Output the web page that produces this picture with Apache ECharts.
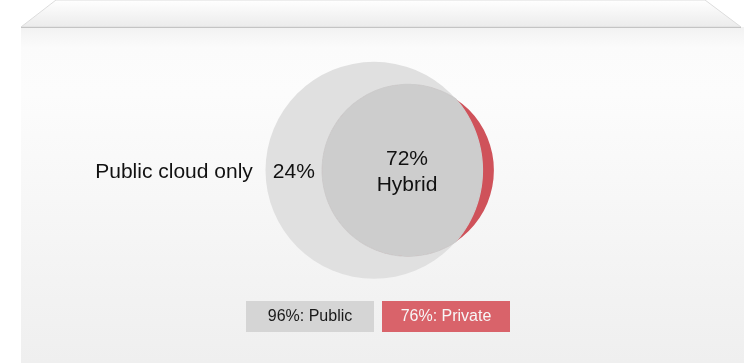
<!DOCTYPE html>
<html>
<head>
<meta charset="utf-8">
<script src="https://cdn.jsdelivr.net/npm/echarts@6/dist/echarts.min.js"></script>
<style>
  html, body { margin: 0; padding: 0; background: #ffffff; }
  #chart { width: 744px; height: 363px; }
</style>
</head>
<body>
<div id="chart"></div>
<script>
// ---- data ----
const setNames = ['Public', 'Private'];
const setValues = [96, 76];
const overlapName = 'Hybrid';
const overlapValue = 72;
const onlyName = 'Public cloud only';
const onlyValue = 24;

// ---- styles ----
const FONT = '"Liberation Sans", Arial, sans-serif';
const circleColors = ['#e0e0e0', '#cf525a'];
const overlapColor = '#cdcdcd';
const legendBg = ['#d5d5d5', '#d9636a'];
const legendText = ['#1a1a1a', '#f7f7f7'];

// ---- Venn layout: radius = value (axis units); distance solved from overlap ----
function lensArea(R1, R2, d) {
  if (d >= R1 + R2) return 0;
  if (d <= Math.abs(R1 - R2)) return Math.PI * Math.min(R1, R2) ** 2;
  const a1 = Math.acos((d * d + R1 * R1 - R2 * R2) / (2 * d * R1));
  const a2 = Math.acos((d * d + R2 * R2 - R1 * R1) / (2 * d * R2));
  return R1 * R1 * (a1 - Math.sin(2 * a1) / 2) + R2 * R2 * (a2 - Math.sin(2 * a2) / 2);
}
const R1u = setValues[0], R2u = setValues[1];
const target = (overlapValue / setValues[1]) * Math.PI * R2u * R2u;
let lo = Math.abs(R1u - R2u), hi = R1u + R2u;
for (let i = 0; i < 80; i++) {
  const mid = (lo + hi) / 2;
  if (lensArea(R1u, R2u, mid) > target) lo = mid; else hi = mid;
}
const dist = (lo + hi) / 2;

const chart = echarts.init(document.getElementById('chart'), null, { renderer: 'canvas' });

function circleItem(color) {
  return function (params, api) {
    const c = api.coord([api.value(0), api.value(1)]);
    const r = api.size([api.value(2), 0])[0];
    return { type: 'circle', shape: { cx: c[0], cy: c[1], r: r }, style: { fill: color } };
  };
}

function lensItem(params, api) {
  const c1 = api.coord([api.value(0), 0]);
  const c2 = api.coord([api.value(1), 0]);
  const R1 = api.size([api.value(2), 0])[0];
  const R2 = api.size([api.value(3), 0])[0];
  const cy = c1[1];
  const d = c2[0] - c1[0];
  const a = (d * d + R1 * R1 - R2 * R2) / (2 * d);
  const h = Math.sqrt(Math.max(R1 * R1 - a * a, 0));
  const x0 = c1[0] + a;
  const angBig = Math.atan2(h, a);
  const angSmall = Math.atan2(h, x0 - c2[0]);
  const pts = [];
  const N = 160;
  for (let i = 0; i <= N; i++) {
    const t = -angSmall - i * (2 * Math.PI - 2 * angSmall) / N;
    pts.push([c2[0] + R2 * Math.cos(t), cy + R2 * Math.sin(t)]);
  }
  for (let i = 1; i < N; i++) {
    const t = angBig - i * (2 * angBig) / N;
    pts.push([c1[0] + R1 * Math.cos(t), cy + R1 * Math.sin(t)]);
  }
  const leftBig = c1[0] - R1;
  const leftSmall = c2[0] - R2;
  const onlyX = (leftBig + leftSmall) / 2;
  return {
    type: 'group',
    children: [
      { type: 'polygon', shape: { points: pts }, style: { fill: overlapColor, stroke: overlapColor, lineWidth: 1.2 } },
      { type: 'text', style: { x: c2[0] - 1, y: cy + 2, text: api.value(4) + '%\n' + overlapName,
          fill: '#111', fontSize: 21, fontFamily: FONT, lineHeight: 26, align: 'center', verticalAlign: 'middle' } },
      { type: 'text', style: { x: onlyX, y: cy + 2, text: api.value(5) + '%',
          fill: '#111', fontSize: 21, fontFamily: FONT, align: 'center', verticalAlign: 'middle' } },
      { type: 'text', style: { x: onlyX - 21 - 20, y: cy + 2, text: onlyName,
          fill: '#111', fontSize: 21, fontFamily: FONT, align: 'right', verticalAlign: 'middle' } }
    ]
  };
}

const option = {
  animation: false,
  backgroundColor: '#ffffff',
  graphic: [
    { type: 'rect', z: -10, shape: { x: 21, y: 27, width: 723, height: 336 },
      style: { fill: new echarts.graphic.LinearGradient(0, 0, 0, 1, [
        { offset: 0, color: '#f2f2f2' }, { offset: 0.06, color: '#fbfbfb' },
        { offset: 0.2, color: '#fcfcfc' }, { offset: 1, color: '#efefef' }]) } },
    { type: 'polygon', z: -9, shape: { points: [[56, 0], [705, 0], [741, 27], [21, 27]] },
      style: { fill: new echarts.graphic.LinearGradient(0, 0, 0, 1, [
        { offset: 0, color: '#ffffff' }, { offset: 1, color: '#ebebeb' }]),
        stroke: '#dcdcdc', lineWidth: 1 } },
    { type: 'line', z: -8, shape: { x1: 21, y1: 27.5, x2: 741, y2: 27.5 }, style: { stroke: '#c4c4c4', lineWidth: 1 } }
  ],
  grid: { left: 261, top: 57.3, width: 226, height: 226 },
  xAxis: { type: 'value', min: -100, max: 100, show: false },
  yAxis: { type: 'value', min: -100, max: 100, show: false },
  legend: {
    left: 241, top: 301, padding: 0, itemGap: 3,
    icon: 'rect', itemWidth: 0, itemHeight: 0, selectedMode: false,
    data: setNames,
    formatter: function (name) {
      const i = setNames.indexOf(name);
      return '{s' + i + '|' + setValues[i] + '%: ' + name + '}';
    },
    textStyle: {
      rich: {
        s0: { width: 128, height: 31, lineHeight: 31, align: 'center', fontSize: 16, fontFamily: FONT,
              backgroundColor: legendBg[0], color: legendText[0] },
        s1: { width: 128, height: 31, lineHeight: 31, align: 'center', fontSize: 16, fontFamily: FONT,
              backgroundColor: legendBg[1], color: legendText[1] }
      }
    }
  },
  series: [
    { type: 'custom', name: setNames[0], coordinateSystem: 'cartesian2d', z: 2,
      renderItem: circleItem(circleColors[0]), data: [[0, 0, setValues[0]]] },
    { type: 'custom', name: setNames[1], coordinateSystem: 'cartesian2d', z: 3,
      renderItem: circleItem(circleColors[1]), data: [[dist, 0, setValues[1]]] },
    { type: 'custom', name: overlapName, coordinateSystem: 'cartesian2d', z: 4,
      renderItem: lensItem, data: [[0, dist, setValues[0], setValues[1], overlapValue, onlyValue]] }
  ]
};
chart.setOption(option);
</script>
</body>
</html>
